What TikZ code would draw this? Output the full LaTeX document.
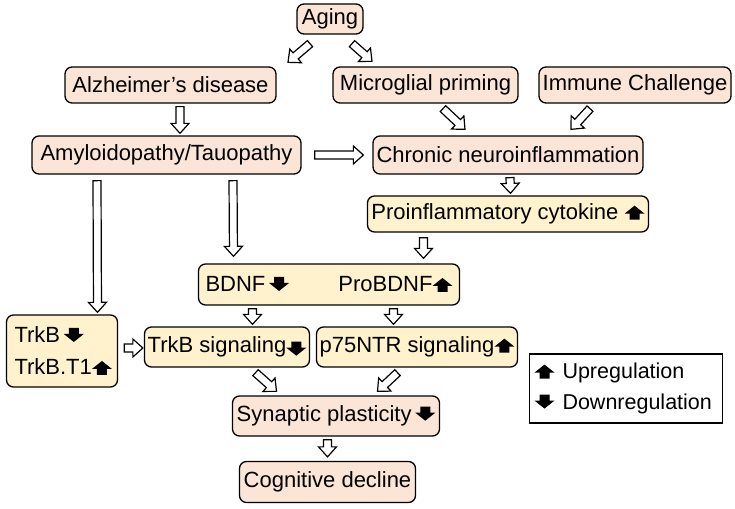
\documentclass[tikz,border=0pt]{standalone}
\usepackage{fontspec}
\setmainfont{Liberation Sans}
\usetikzlibrary{positioning,calc}

\definecolor{boxpink}{HTML}{FBE5D6}
\definecolor{boxyellow}{HTML}{FFF2CC}

\newcommand{\upmark}{\tikz[baseline=0pt,x=1pt,y=1pt,sharp corners]\fill (-5,0) -- (-5,6) -- (-10,6) -- (0,14) -- (10,6) -- (5,6) -- (5,0) -- cycle;}
\newcommand{\downmark}{\tikz[baseline=-1pt,x=1pt,y=1pt,sharp corners]\fill (-5,14) -- (-5,8) -- (-10,8) -- (0,0) -- (10,8) -- (5,8) -- (5,14) -- cycle;}

% hollow block arrow: from anchor + offset to anchor + offset
\newcommand{\blockarrow}[4]{%
  \draw[hollowarrow] let \p1=($(#1)+(#2)$), \p2=($(#3)+(#4)$), \p3=($(\p2)-(\p1)$),
    \n1={veclen(\x3,\y3)}, \n2={atan2(\y3,\x3)} in
    [shift={(\p1)}, rotate=\n2]
    (0,-4) -- ({\n1-10},-4) -- ({\n1-10},-9) -- (\n1,0) -- ({\n1-10},9) -- ({\n1-10},4) -- (0,4) -- cycle;}

\tikzset{
  box/.style={draw, rounded corners=7pt, line width=1.3pt, inner xsep=3pt, inner ysep=2pt,
    font=\fontsize{22}{32}\selectfont},
  pinkbox/.style={box, fill=boxpink},
  yellowbox/.style={box, fill=boxyellow},
  hollowarrow/.style={draw, fill=white, line width=1.2pt, line join=miter},
}

\begin{document}
\begin{tikzpicture}[x=1pt,y=1pt,on grid]
	\useasboundingbox (0,0) rectangle (735,-508);
	\node[pinkbox, minimum width=66pt, minimum height=30pt] (aging) at (330,-19) {Aging};
	\node[pinkbox, minimum width=211pt, minimum height=36pt] (alz) [below left=66pt and 159.5pt of aging] {Alzheimer’s disease};
	\node[pinkbox, minimum width=185pt, minimum height=36pt] (micro) [below right=66pt and 95.5pt of aging] {Microglial priming};
	\node[pinkbox, minimum width=192pt, minimum height=36pt] (immune) [right=209.5pt of micro] {Immune Challenge};
	\node[pinkbox, minimum width=269pt, minimum height=38pt] (amy) [below left=70pt and 4pt of alz] {Amyloidopathy/Tauopathy};
	\node[pinkbox, minimum width=270pt, minimum height=38pt] (chronic) [right=341.5pt of amy] {Chronic neuroinflammation};
	\node[yellowbox, minimum width=281pt, minimum height=36pt] (cyto) [below=59pt of chronic] {Proinflammatory cytokine \upmark};
	\node[yellowbox, minimum height=41pt, text width=247pt, inner xsep=7pt] (bdnf) [below left=70.5pt and 179pt of cyto] {BDNF\,\downmark\hfill ProBDNF\upmark};
	\node[yellowbox, minimum width=165pt, minimum height=40pt] (tsig) [below left=62.5pt and 102pt of bdnf] {TrkB signaling\raisebox{-4pt}{\downmark}};
	\node[yellowbox, minimum width=201pt, minimum height=40pt] (psig) [right=190pt of tsig] {p75NTR signaling\upmark};
	\node[yellowbox, minimum height=72pt, text width=95pt, inner xsep=8pt, align=left] (trkb) [below left=4pt and 165pt of tsig] {TrkB\,\downmark\\TrkB.T1\upmark};
	\node[pinkbox, minimum width=207pt, minimum height=40pt] (syn) [below right=69pt and 109pt of tsig] {Synaptic plasticity\,\downmark};
	\node[pinkbox, minimum width=176pt, minimum height=41pt] (cog) [below left=66pt and 8.5pt of syn] {Cognitive decline};
	\node[draw, fill=white, line width=1.3pt, minimum height=69pt, text width=183pt, inner xsep=5pt, align=left,
	  font=\fontsize{21.5}{31}\selectfont] (legend) [above right=27.5pt and 290pt of syn]
	  {\upmark\hspace{8pt}Upregulation\\\downmark\hspace{8pt}Downregulation};

	\blockarrow{aging.south}{-20,-9}{alz.north}{117.5,4}
	\blockarrow{aging.south}{22,-9}{micro.north}{-53.5,5}
	\blockarrow{alz.south}{9.5,-3}{amy.north}{13.5,2}
	\blockarrow{micro.south}{17.5,-5}{chronic.north}{-43,6}
	\blockarrow{immune.south}{-45,-5}{chronic.north}{63,6}
	\blockarrow{amy.east}{13,0}{chronic.west}{-9,0}
	\blockarrow{chronic.south}{2,-3}{cyto.north}{2.5,2}
	\blockarrow{cyto.south}{-84.5,-5}{bdnf.north}{94.5,5}
	\blockarrow{amy.south}{-69.5,-6}{trkb.north}{35.5,2}
	\blockarrow{amy.south}{66.5,-6}{bdnf.north}{-95.5,7}
	\blockarrow{bdnf.south}{-76.5,-3}{tsig.north}{25.5,2}
	\blockarrow{bdnf.south}{64.5,-3}{psig.north}{-23.5,2}
	\blockarrow{trkb.east}{6,3}{tsig.west}{-1,-1}
	\blockarrow{tsig.south}{28.5,-5}{syn.north}{-59.5,4}
	\blockarrow{psig.south}{-19.5,-5}{syn.north}{41.5,4}
	\blockarrow{syn.south}{-8.5,-3}{cog.north}{0,4}
\end{tikzpicture}
\end{document}
